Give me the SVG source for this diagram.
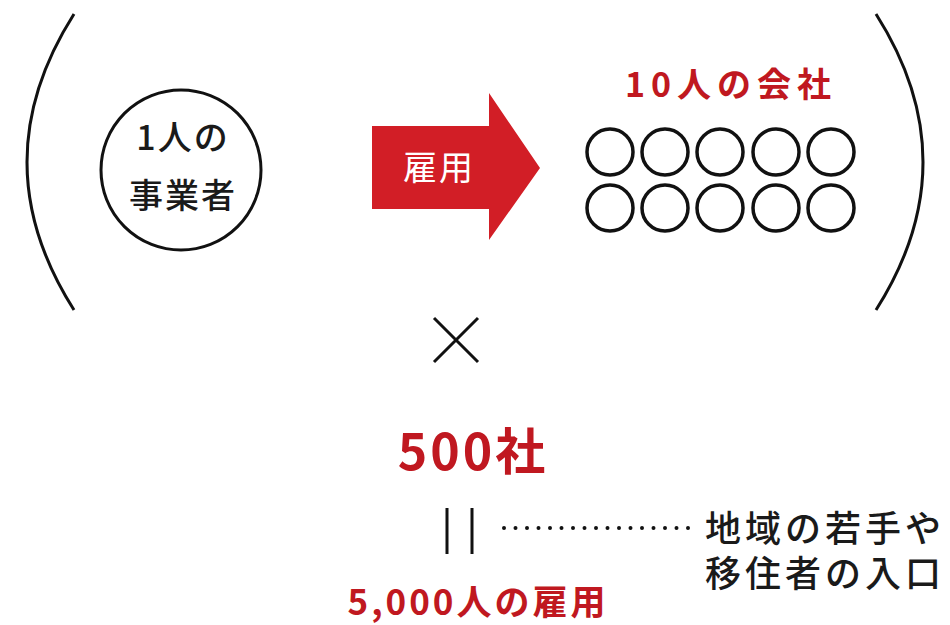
<svg xmlns="http://www.w3.org/2000/svg" width="950" height="625" viewBox="0 0 950 625">
<style>
.ln{fill:none;stroke:#111;stroke-width:3}
.sm{fill:none;stroke:#111;stroke-width:3.5}
.blk{font-family:"Noto Sans CJK JP","Noto Sans",sans-serif;fill:#1a1a1a;font-weight:500}
.red{font-family:"Noto Sans CJK JP","Noto Sans",sans-serif;fill:#c01820;font-weight:bold}
</style>
<rect width="950" height="625" fill="#fff"/>
<g id="brackets">
<path class="ln" d="M74,14 Q-20,162 74,310"/>
<path class="ln" d="M876,14 Q970,162 876,310"/>
</g>
<g id="sole">
<circle class="ln" cx="181" cy="170" r="80"/>
<text class="blk" x="183" y="150" font-size="34" letter-spacing="2" text-anchor="middle">1人の</text>
<text class="blk" x="183" y="208" font-size="34" letter-spacing="2" text-anchor="middle">事業者</text>
</g>
<g id="arrow">
<polygon points="372,126 489,126 489,93 540,168 489,240 489,209 372,209" fill="#d21e26"/>
<text x="439" y="180" font-size="34" letter-spacing="2" text-anchor="middle" fill="#fff" font-family="Noto Sans CJK JP,sans-serif">雇用</text>
</g>
<g id="company">
<text class="red" x="731" y="97" font-size="34" letter-spacing="6" text-anchor="middle">10人の会社</text>
<g class="sm">
<circle cx="610" cy="152" r="23"/><circle cx="665" cy="152" r="23"/><circle cx="720" cy="152" r="23"/><circle cx="776" cy="152" r="23"/><circle cx="831" cy="152" r="23"/>
<circle cx="610" cy="208" r="23"/><circle cx="665" cy="208" r="23"/><circle cx="720" cy="208" r="23"/><circle cx="776" cy="208" r="23"/><circle cx="831" cy="208" r="23"/>
</g>
</g>
<g id="times">
<path class="ln" d="M434,318 L478,362 M478,318 L434,362"/>
</g>
<g id="count">
<text class="red" x="473" y="470" font-size="50" letter-spacing="3" text-anchor="middle">500社</text>
</g>
<g id="connectors">
<path class="ln" d="M447,508 V554 M472,508 V554"/>
<path d="M504,528 H690" fill="none" stroke="#111" stroke-width="4" stroke-linecap="round" stroke-dasharray="0 11.5"/>
</g>
<g id="note">
<text class="blk" font-size="36" letter-spacing="4"><tspan x="705" y="542">地域の若手や</tspan><tspan x="705" y="587">移住者の入口</tspan></text>
</g>
<g id="result">
<text class="red" x="478" y="615" font-size="35" letter-spacing="3" text-anchor="middle">5,000人の雇用</text>
</g>
</svg>
